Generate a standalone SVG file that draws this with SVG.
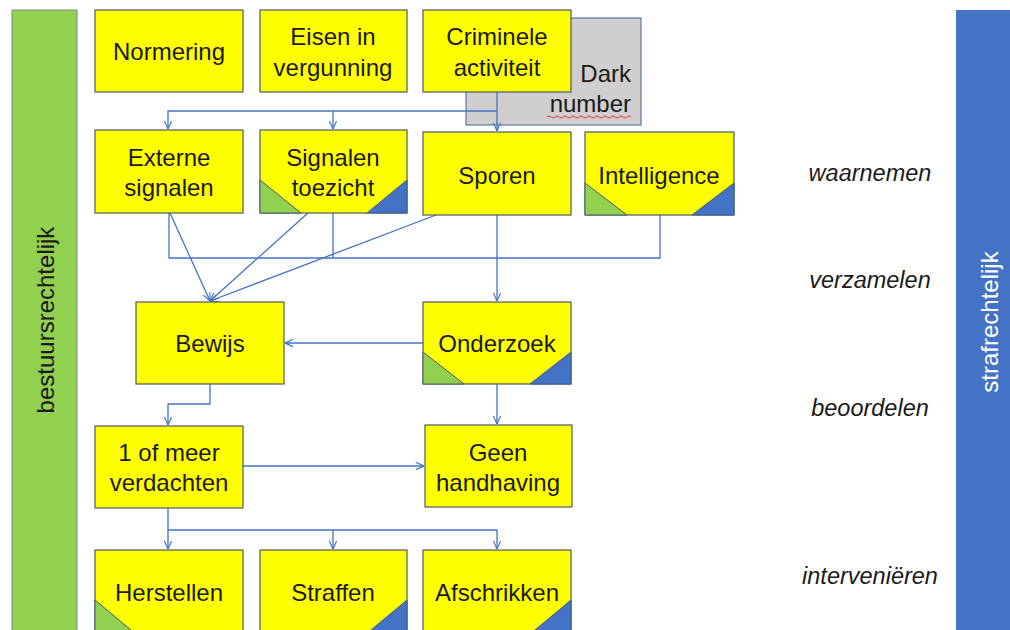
<svg xmlns="http://www.w3.org/2000/svg" width="1010" height="630" viewBox="0 0 1010 630">
<style>
.box{fill:#FFFF00;stroke:#4a5a6a;stroke-width:1.2}
.t{font-family:"Liberation Sans",Arial,sans-serif;font-size:24px;fill:#1a1a1a;text-anchor:middle;dominant-baseline:central}
.lab{font-family:"Liberation Sans",Arial,sans-serif;font-size:23.5px;font-style:italic;fill:#1a1a1a;text-anchor:middle;dominant-baseline:central}
.g{fill:#92D050;stroke:#4a5a6a;stroke-width:1}
.b{fill:#4472C4;stroke:#3a5a8a;stroke-width:1}
.c{fill:none;stroke:#4472C4;stroke-width:1.3}
</style>
<defs>
<marker id="a" viewBox="0 0 10 10" refX="10" refY="5" markerWidth="9" markerHeight="9" orient="auto" markerUnits="userSpaceOnUse">
<path d="M1,1 L10,5 L1,9" fill="none" stroke="#4472C4" stroke-width="1.3"/>
</marker>
</defs>
<rect width="1010" height="630" fill="#fff"/>

<g id="bestuursrechtelijk">
<rect x="12" y="10" width="65" height="630" fill="#92D050" stroke="#7a8a7a" stroke-width="1"/>
<text class="t" transform="translate(45,320) rotate(-90)">bestuursrechtelijk</text>
</g>
<g id="strafrechtelijk">
<rect x="956" y="10" width="60" height="630" fill="#4472C4"/>
<text class="t" transform="translate(989,322) rotate(-90)" style="fill:#fff">strafrechtelijk</text>
</g>

<g id="darknumber">
<rect x="466" y="18" width="175" height="107" fill="#D0CECE" stroke="#5a7aa0" stroke-width="1.2"/>
<text class="t" x="631" y="73" style="text-anchor:end">Dark</text>
<text class="t" x="631" y="103" style="text-anchor:end">number</text>
<path d="M547,117 q2,-2 4,0 t4,0 t4,0 t4,0 t4,0 t4,0 t4,0 t4,0 t4,0 t4,0 t4,0 t4,0 t4,0 t4,0 t4,0 t4,0 t4,0 t4,0 t4,0 t4,0 t4,0" fill="none" stroke="#e03030" stroke-width="0.9"/>
</g>

<g id="connectors">
<path class="c" d="M497,92 V131" marker-end="url(#a)"/>
<path class="c" d="M497,111 H168 V129" marker-end="url(#a)"/>
<path class="c" d="M333,111 V129" marker-end="url(#a)"/>
<path class="c" d="M169,213 V258 H660 V215"/>
<path class="c" d="M333,213 V258"/>
<path class="c" d="M497,215 V301" marker-end="url(#a)"/>
<path class="c" d="M170,213 L210,301" marker-end="url(#a)"/>
<path class="c" d="M308,213 L210,301" marker-end="url(#a)"/>
<path class="c" d="M436,215 L210,301" marker-end="url(#a)"/>
<path class="c" d="M423,343 H285" marker-end="url(#a)"/>
<path class="c" d="M210,384 V404 H168 V425" marker-end="url(#a)"/>
<path class="c" d="M497,384 V424" marker-end="url(#a)"/>
<path class="c" d="M243,466 H424" marker-end="url(#a)"/>
<path class="c" d="M168,508 V530 H497 V549" marker-end="url(#a)"/>
<path class="c" d="M168,530 V549" marker-end="url(#a)"/>
<path class="c" d="M333,530 V549" marker-end="url(#a)"/>
</g>

<g id="normering"><rect class="box" x="95" y="10" width="148" height="82"/><text class="t" x="169" y="51">Normering</text></g>
<g id="eisen"><rect class="box" x="260" y="10" width="147" height="82"/><text class="t" x="333" y="36">Eisen in</text><text class="t" x="333" y="67">vergunning</text></g>
<g id="criminele"><rect class="box" x="423" y="10" width="148" height="82"/><text class="t" x="497" y="36">Criminele</text><text class="t" x="497" y="67">activiteit</text></g>

<g id="externe"><rect class="box" x="95" y="130" width="148" height="83"/><text class="t" x="169" y="157">Externe</text><text class="t" x="169" y="187">signalen</text></g>
<g id="toezicht"><rect class="box" x="260" y="130" width="147" height="83"/>
<polygon class="g" points="260,180 260,213 301,213"/><polygon class="b" points="407,180 407,213 367,213"/>
<text class="t" x="333" y="157">Signalen</text><text class="t" x="333" y="187">toezicht</text></g>
<g id="sporen"><rect class="box" x="423" y="132" width="148" height="83"/><text class="t" x="497" y="175">Sporen</text></g>
<g id="intelligence"><rect class="box" x="585" y="132" width="149" height="83"/>
<polygon class="g" points="585,183 585,215 627,215"/><polygon class="b" points="734,183 734,215 692,215"/>
<text class="t" x="659" y="175">Intelligence</text></g>

<g id="bewijs"><rect class="box" x="136" y="302" width="148" height="82"/><text class="t" x="210" y="343">Bewijs</text></g>
<g id="onderzoek"><rect class="box" x="423" y="302" width="148" height="82"/>
<polygon class="g" points="423,352 423,384 464,384"/><polygon class="b" points="571,352 571,384 530,384"/>
<text class="t" x="497" y="343">Onderzoek</text></g>

<g id="verdachten"><rect class="box" x="95" y="426" width="148" height="82"/><text class="t" x="169" y="452">1 of meer</text><text class="t" x="169" y="482">verdachten</text></g>
<g id="geen"><rect class="box" x="425" y="425" width="147" height="82"/><text class="t" x="498" y="452">Geen</text><text class="t" x="498" y="482">handhaving</text></g>

<g id="herstellen"><rect class="box" x="95" y="550" width="148" height="90"/>
<polygon class="g" points="95,600 95,640 143,640"/>
<text class="t" x="169" y="592">Herstellen</text></g>
<g id="straffen"><rect class="box" x="260" y="550" width="147" height="90"/>
<polygon class="b" points="407,600 407,640 359,640"/>
<text class="t" x="333" y="592">Straffen</text></g>
<g id="afschrikken"><rect class="box" x="423" y="550" width="148" height="90"/>
<polygon class="b" points="571,600 571,640 523,640"/>
<text class="t" x="497" y="592">Afschrikken</text></g>

<g id="labels">
<text class="lab" x="870" y="173">waarnemen</text>
<text class="lab" x="870" y="280">verzamelen</text>
<text class="lab" x="870" y="408">beoordelen</text>
<text class="lab" x="870" y="576">interveniëren</text>
</g>
</svg>
